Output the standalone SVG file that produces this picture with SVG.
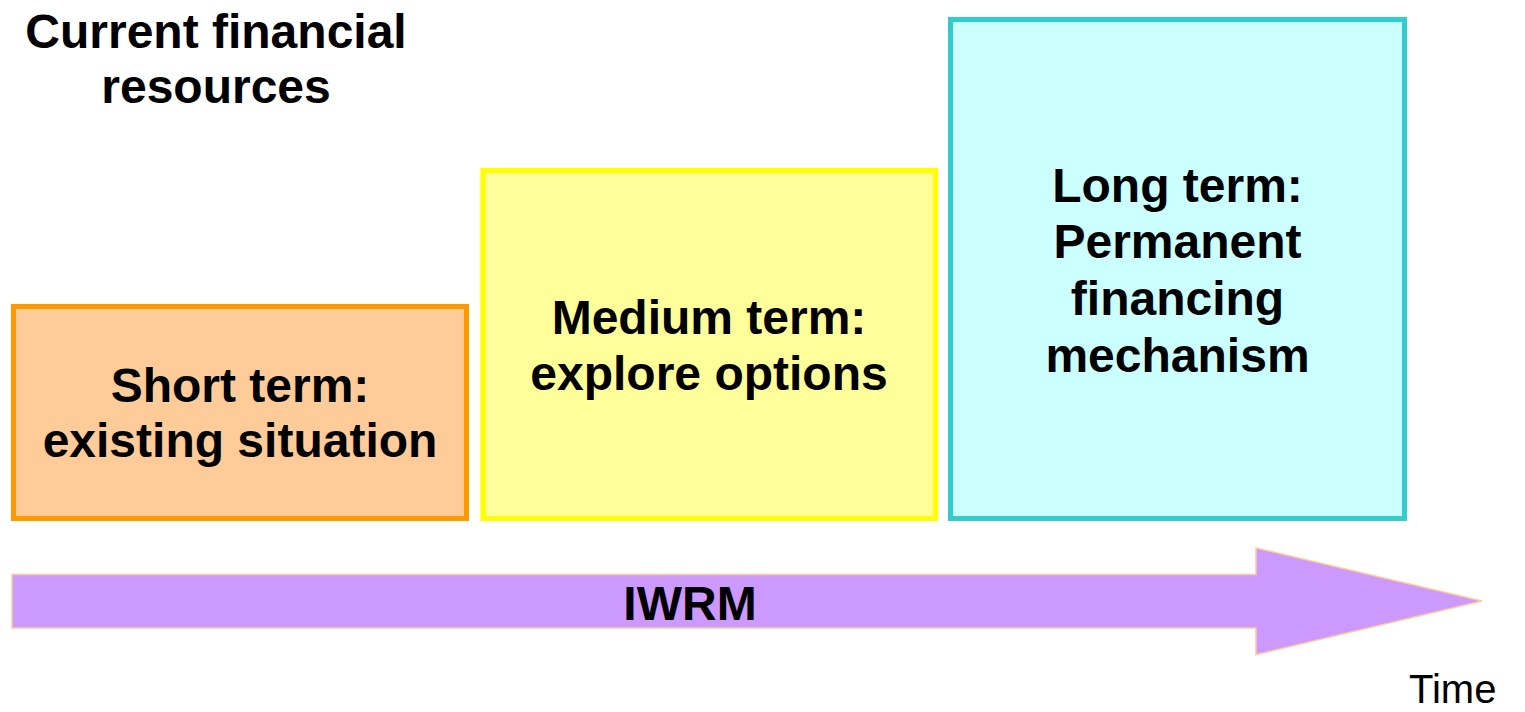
<svg xmlns="http://www.w3.org/2000/svg" width="1525" height="712" viewBox="0 0 1525 712">
  <style>
    .lbl { font-family: "Liberation Sans", Arial, sans-serif; font-weight: bold; font-size: 48px; fill: #000000; text-anchor: middle; }
    .box { stroke-width: 5; }
  </style>
  <rect width="1525" height="712" fill="#FFFFFF"/>
  <g id="title">
    <text class="lbl" x="216" y="48">Current financial</text>
    <text class="lbl" x="216" y="103">resources</text>
  </g>
  <g id="short-term">
    <rect class="box" x="13.5" y="306.5" width="453" height="212" fill="#FFCC99" stroke="#FF9900"/>
    <text class="lbl" x="240" y="402">Short term:</text>
    <text class="lbl" x="240" y="457">existing situation</text>
  </g>
  <g id="medium-term">
    <rect class="box" x="483" y="170.5" width="452.5" height="348" fill="#FFFF99" stroke="#FFFF00"/>
    <text class="lbl" x="709" y="334">Medium term:</text>
    <text class="lbl" x="709" y="390">explore options</text>
  </g>
  <g id="long-term">
    <rect class="box" x="950.5" y="19.5" width="454" height="499" fill="#CCFFFF" stroke="#33CCCC"/>
    <text class="lbl" x="1177.5" y="202">Long term:</text>
    <text class="lbl" x="1177.5" y="258">Permanent</text>
    <text class="lbl" x="1177.5" y="315">financing</text>
    <text class="lbl" x="1177.5" y="372">mechanism</text>
  </g>
  <g id="connectors">
    <g id="iwrm-arrow">
      <polygon points="12,574.5 1256,574.5 1256,548 1482,601 1256,654.5 1256,628 12,628" fill="#CC99FF" stroke="#FFCC99" stroke-width="1.5"/>
      <text class="lbl" x="690" y="620">IWRM</text>
    </g>
  </g>
  <g id="time">
    <text x="1409" y="703" font-family="Liberation Sans, Arial, sans-serif" font-size="40" fill="#000000">Time</text>
  </g>
</svg>
